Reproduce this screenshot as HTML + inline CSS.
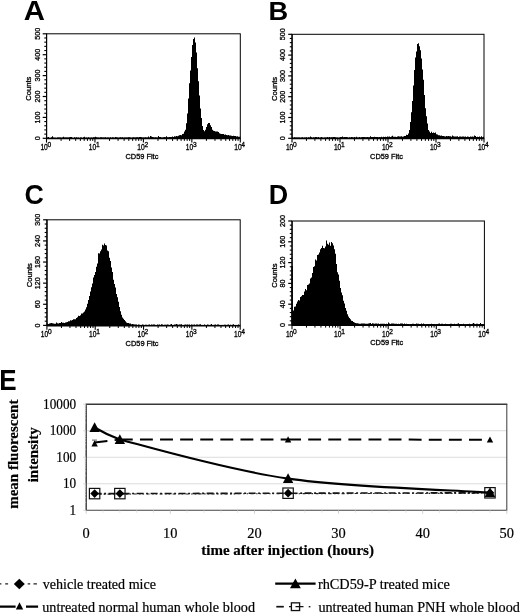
<!DOCTYPE html>
<html><head><meta charset="utf-8"><title>Figure</title>
<style>html,body{margin:0;padding:0;background:#fff}svg{display:block;filter:blur(0.4px)}</style>
</head><body>
<svg width="520" height="612" viewBox="0 0 520 612">
<rect width="520" height="612" fill="#fff"/>
<text transform="translate(23.8,19.9) scale(1.15,1.11)" font-family="Liberation Sans, sans-serif" font-size="25.5" font-weight="bold" fill="#000">A</text>
<path d="M46.5,138.3 V137.8 H47.0 V137.6 H48.0 V137.1 H49.0 V137.9 H50.0 V137.9 H51.0 V137.3 H52.0 V136.2 H53.0 V137.5 H54.0 V137.8 H55.0 V137.7 H56.0 V137.9 H57.0 V137.6 H58.0 V137.6 H59.0 V137.4 H60.0 V137.6 H61.0 V137.7 H62.0 V137.6 H63.0 V136.8 H64.0 V137.5 H65.0 V137.4 H66.0 V137.6 H67.0 V137.6 H68.0 V137.4 H69.0 V137.3 H70.0 V136.9 H71.0 V136.9 H72.0 V137.7 H73.0 V137.9 H74.0 V137.3 H75.0 V137.7 H76.0 V137.3 H77.0 V137.8 H78.0 V137.5 H79.0 V137.9 H80.0 V137.5 H81.0 V137.5 H82.0 V137.9 H83.0 V137.3 H84.0 V136.8 H85.0 V137.8 H86.0 V137.6 H87.0 V137.8 H88.0 V137.2 H89.0 V137.7 H90.0 V137.8 H91.0 V137.6 H92.0 V137.8 H93.0 V137.3 H94.0 V137.2 H95.0 V136.8 H96.0 V137.3 H97.0 V137.6 H98.0 V137.5 H99.0 V137.7 H100.0 V137.3 H101.0 V137.3 H102.0 V137.6 H103.0 V137.6 H104.0 V137.5 H105.0 V137.2 H106.0 V137.7 H107.0 V137.4 H108.0 V137.5 H109.0 V137.8 H110.0 V137.3 H111.0 V137.7 H112.0 V137.2 H113.0 V137.5 H114.0 V137.7 H115.0 V137.1 H116.0 V137.2 H117.0 V137.5 H118.0 V137.8 H119.0 V137.4 H120.0 V137.2 H121.0 V137.6 H122.0 V137.3 H123.0 V137.7 H124.0 V137.4 H125.0 V137.5 H126.0 V137.4 H127.0 V137.4 H128.0 V137.2 H129.0 V137.2 H130.0 V137.4 H131.0 V137.7 H132.0 V137.5 H133.0 V137.3 H134.0 V137.4 H135.0 V137.4 H136.0 V137.3 H137.0 V137.2 H138.0 V137.5 H139.0 V137.1 H140.0 V137.1 H141.0 V137.2 H142.0 V137.6 H143.0 V137.6 H144.0 V137.5 H145.0 V137.3 H146.0 V137.6 H147.0 V137.4 H148.0 V136.5 H149.0 V137.6 H150.0 V136.1 H151.0 V136.6 H152.0 V137.1 H153.0 V137.3 H154.0 V137.4 H155.0 V137.2 H156.0 V137.5 H157.0 V137.5 H158.0 V135.9 H159.0 V136.9 H160.0 V137.1 H161.0 V137.4 H162.0 V137.4 H163.0 V137.3 H164.0 V136.9 H165.0 V137.3 H166.0 V136.3 H167.0 V137.3 H168.0 V137.3 H169.0 V137.0 H170.0 V136.9 H171.0 V137.0 H172.0 V136.6 H173.0 V136.9 H174.0 V136.2 H175.0 V136.6 H176.0 V136.1 H177.0 V136.2 H178.0 V135.8 H179.0 V135.3 H180.0 V135.0 H181.0 V135.2 H182.0 V134.1 H183.0 V133.8 H184.0 V131.6 H185.0 V129.8 H186.0 V123.3 H187.0 V113.4 H188.0 V98.4 H189.0 V83.3 H190.0 V70.6 H191.0 V57.1 H192.0 V45.0 H193.0 V38.9 H194.0 V37.4 H195.0 V42.6 H196.0 V52.4 H197.0 V68.3 H198.0 V81.3 H199.0 V95.6 H200.0 V108.5 H201.0 V117.9 H202.0 V126.0 H203.0 V130.1 H204.0 V131.3 H205.0 V129.8 H206.0 V127.0 H207.0 V124.3 H208.0 V123.0 H209.0 V123.1 H210.0 V125.2 H211.0 V127.0 H212.0 V129.7 H213.0 V130.7 H214.0 V130.9 H215.0 V131.6 H216.0 V131.4 H217.0 V131.4 H218.0 V132.1 H219.0 V133.2 H220.0 V133.7 H221.0 V134.1 H222.0 V133.9 H223.0 V134.0 H224.0 V134.7 H225.0 V134.4 H226.0 V135.0 H227.0 V135.3 H228.0 V135.0 H229.0 V135.5 H230.0 V135.4 H231.0 V135.8 H232.0 V135.9 H233.0 V135.8 H234.0 V136.1 H235.0 V135.9 H236.0 V136.5 H237.0 V136.2 H238.0 V136.7 H239.0 V136.8 H240.0 V136.3 H240.3 V138.3Z" fill="#000"/>
<rect x="46.5" y="33.8" width="193.8" height="104.50000000000001" fill="none" stroke="#000" stroke-width="1"/>
<line x1="46.5" y1="138.60000000000002" x2="240.3" y2="138.60000000000002" stroke="#000" stroke-width="1.5"/>
<line x1="46.6" y1="33.8" x2="46.6" y2="138.3" stroke="#000" stroke-width="1.2"/>
<line x1="42.7" y1="138.30" x2="46.5" y2="138.30" stroke="#000" stroke-width="1.2"/>
<text transform="translate(39.6,138.30) rotate(-90)" text-anchor="middle" font-family="Liberation Sans, sans-serif" font-size="7.2" fill="#000" stroke="#000" stroke-width="0.3">0</text>
<line x1="44.3" y1="134.12" x2="46.5" y2="134.12" stroke="#000" stroke-width="1.1"/>
<line x1="44.3" y1="129.94" x2="46.5" y2="129.94" stroke="#000" stroke-width="1.1"/>
<line x1="44.3" y1="125.76" x2="46.5" y2="125.76" stroke="#000" stroke-width="1.1"/>
<line x1="44.3" y1="121.58" x2="46.5" y2="121.58" stroke="#000" stroke-width="1.1"/>
<line x1="42.7" y1="117.40" x2="46.5" y2="117.40" stroke="#000" stroke-width="1.2"/>
<text transform="translate(39.6,117.40) rotate(-90)" text-anchor="middle" font-family="Liberation Sans, sans-serif" font-size="7.2" fill="#000" stroke="#000" stroke-width="0.3">100</text>
<line x1="44.3" y1="113.22" x2="46.5" y2="113.22" stroke="#000" stroke-width="1.1"/>
<line x1="44.3" y1="109.04" x2="46.5" y2="109.04" stroke="#000" stroke-width="1.1"/>
<line x1="44.3" y1="104.86" x2="46.5" y2="104.86" stroke="#000" stroke-width="1.1"/>
<line x1="44.3" y1="100.68" x2="46.5" y2="100.68" stroke="#000" stroke-width="1.1"/>
<line x1="42.7" y1="96.50" x2="46.5" y2="96.50" stroke="#000" stroke-width="1.2"/>
<text transform="translate(39.6,96.50) rotate(-90)" text-anchor="middle" font-family="Liberation Sans, sans-serif" font-size="7.2" fill="#000" stroke="#000" stroke-width="0.3">200</text>
<line x1="44.3" y1="92.32" x2="46.5" y2="92.32" stroke="#000" stroke-width="1.1"/>
<line x1="44.3" y1="88.14" x2="46.5" y2="88.14" stroke="#000" stroke-width="1.1"/>
<line x1="44.3" y1="83.96" x2="46.5" y2="83.96" stroke="#000" stroke-width="1.1"/>
<line x1="44.3" y1="79.78" x2="46.5" y2="79.78" stroke="#000" stroke-width="1.1"/>
<line x1="42.7" y1="75.60" x2="46.5" y2="75.60" stroke="#000" stroke-width="1.2"/>
<text transform="translate(39.6,75.60) rotate(-90)" text-anchor="middle" font-family="Liberation Sans, sans-serif" font-size="7.2" fill="#000" stroke="#000" stroke-width="0.3">300</text>
<line x1="44.3" y1="71.42" x2="46.5" y2="71.42" stroke="#000" stroke-width="1.1"/>
<line x1="44.3" y1="67.24" x2="46.5" y2="67.24" stroke="#000" stroke-width="1.1"/>
<line x1="44.3" y1="63.06" x2="46.5" y2="63.06" stroke="#000" stroke-width="1.1"/>
<line x1="44.3" y1="58.88" x2="46.5" y2="58.88" stroke="#000" stroke-width="1.1"/>
<line x1="42.7" y1="54.70" x2="46.5" y2="54.70" stroke="#000" stroke-width="1.2"/>
<text transform="translate(39.6,54.70) rotate(-90)" text-anchor="middle" font-family="Liberation Sans, sans-serif" font-size="7.2" fill="#000" stroke="#000" stroke-width="0.3">400</text>
<line x1="44.3" y1="50.52" x2="46.5" y2="50.52" stroke="#000" stroke-width="1.1"/>
<line x1="44.3" y1="46.34" x2="46.5" y2="46.34" stroke="#000" stroke-width="1.1"/>
<line x1="44.3" y1="42.16" x2="46.5" y2="42.16" stroke="#000" stroke-width="1.1"/>
<line x1="44.3" y1="37.98" x2="46.5" y2="37.98" stroke="#000" stroke-width="1.1"/>
<line x1="42.7" y1="33.80" x2="46.5" y2="33.80" stroke="#000" stroke-width="1.2"/>
<text transform="translate(39.6,33.80) rotate(-90)" text-anchor="middle" font-family="Liberation Sans, sans-serif" font-size="7.2" fill="#000" stroke="#000" stroke-width="0.3">500</text>
<text transform="translate(31.2,88.65) rotate(-90)" text-anchor="middle" font-family="Liberation Sans, sans-serif" font-size="7.6" fill="#000" stroke="#000" stroke-width="0.3">Counts</text>
<line x1="46.50" y1="138.3" x2="46.50" y2="142.60000000000002" stroke="#000" stroke-width="1.1"/>
<text x="47.80" y="150.3" text-anchor="end" textLength="7.4" lengthAdjust="spacingAndGlyphs" font-family="Liberation Sans, sans-serif" font-size="8.3" fill="#000" stroke="#000" stroke-width="0.3">10</text>
<text x="49.40" y="146.8" text-anchor="middle" font-family="Liberation Sans, sans-serif" font-size="6.6" fill="#000" stroke="#000" stroke-width="0.3">0</text>
<line x1="61.08" y1="138.3" x2="61.08" y2="140.9" stroke="#000" stroke-width="1"/>
<line x1="69.62" y1="138.3" x2="69.62" y2="140.9" stroke="#000" stroke-width="1"/>
<line x1="75.67" y1="138.3" x2="75.67" y2="140.9" stroke="#000" stroke-width="1"/>
<line x1="80.37" y1="138.3" x2="80.37" y2="140.9" stroke="#000" stroke-width="1"/>
<line x1="84.20" y1="138.3" x2="84.20" y2="140.9" stroke="#000" stroke-width="1"/>
<line x1="87.45" y1="138.3" x2="87.45" y2="140.9" stroke="#000" stroke-width="1"/>
<line x1="90.25" y1="138.3" x2="90.25" y2="140.9" stroke="#000" stroke-width="1"/>
<line x1="92.73" y1="138.3" x2="92.73" y2="140.9" stroke="#000" stroke-width="1"/>
<line x1="94.95" y1="138.3" x2="94.95" y2="142.60000000000002" stroke="#000" stroke-width="1.1"/>
<text x="96.25" y="150.3" text-anchor="end" textLength="7.4" lengthAdjust="spacingAndGlyphs" font-family="Liberation Sans, sans-serif" font-size="8.3" fill="#000" stroke="#000" stroke-width="0.3">10</text>
<text x="97.85" y="146.8" text-anchor="middle" font-family="Liberation Sans, sans-serif" font-size="6.6" fill="#000" stroke="#000" stroke-width="0.3">1</text>
<line x1="109.53" y1="138.3" x2="109.53" y2="140.9" stroke="#000" stroke-width="1"/>
<line x1="118.07" y1="138.3" x2="118.07" y2="140.9" stroke="#000" stroke-width="1"/>
<line x1="124.12" y1="138.3" x2="124.12" y2="140.9" stroke="#000" stroke-width="1"/>
<line x1="128.82" y1="138.3" x2="128.82" y2="140.9" stroke="#000" stroke-width="1"/>
<line x1="132.65" y1="138.3" x2="132.65" y2="140.9" stroke="#000" stroke-width="1"/>
<line x1="135.90" y1="138.3" x2="135.90" y2="140.9" stroke="#000" stroke-width="1"/>
<line x1="138.70" y1="138.3" x2="138.70" y2="140.9" stroke="#000" stroke-width="1"/>
<line x1="141.18" y1="138.3" x2="141.18" y2="140.9" stroke="#000" stroke-width="1"/>
<line x1="143.40" y1="138.3" x2="143.40" y2="142.60000000000002" stroke="#000" stroke-width="1.1"/>
<text x="144.70" y="150.3" text-anchor="end" textLength="7.4" lengthAdjust="spacingAndGlyphs" font-family="Liberation Sans, sans-serif" font-size="8.3" fill="#000" stroke="#000" stroke-width="0.3">10</text>
<text x="146.30" y="146.8" text-anchor="middle" font-family="Liberation Sans, sans-serif" font-size="6.6" fill="#000" stroke="#000" stroke-width="0.3">2</text>
<line x1="157.98" y1="138.3" x2="157.98" y2="140.9" stroke="#000" stroke-width="1"/>
<line x1="166.52" y1="138.3" x2="166.52" y2="140.9" stroke="#000" stroke-width="1"/>
<line x1="172.57" y1="138.3" x2="172.57" y2="140.9" stroke="#000" stroke-width="1"/>
<line x1="177.27" y1="138.3" x2="177.27" y2="140.9" stroke="#000" stroke-width="1"/>
<line x1="181.10" y1="138.3" x2="181.10" y2="140.9" stroke="#000" stroke-width="1"/>
<line x1="184.35" y1="138.3" x2="184.35" y2="140.9" stroke="#000" stroke-width="1"/>
<line x1="187.15" y1="138.3" x2="187.15" y2="140.9" stroke="#000" stroke-width="1"/>
<line x1="189.63" y1="138.3" x2="189.63" y2="140.9" stroke="#000" stroke-width="1"/>
<line x1="191.85" y1="138.3" x2="191.85" y2="142.60000000000002" stroke="#000" stroke-width="1.1"/>
<text x="193.15" y="150.3" text-anchor="end" textLength="7.4" lengthAdjust="spacingAndGlyphs" font-family="Liberation Sans, sans-serif" font-size="8.3" fill="#000" stroke="#000" stroke-width="0.3">10</text>
<text x="194.75" y="146.8" text-anchor="middle" font-family="Liberation Sans, sans-serif" font-size="6.6" fill="#000" stroke="#000" stroke-width="0.3">3</text>
<line x1="206.43" y1="138.3" x2="206.43" y2="140.9" stroke="#000" stroke-width="1"/>
<line x1="214.97" y1="138.3" x2="214.97" y2="140.9" stroke="#000" stroke-width="1"/>
<line x1="221.02" y1="138.3" x2="221.02" y2="140.9" stroke="#000" stroke-width="1"/>
<line x1="225.72" y1="138.3" x2="225.72" y2="140.9" stroke="#000" stroke-width="1"/>
<line x1="229.55" y1="138.3" x2="229.55" y2="140.9" stroke="#000" stroke-width="1"/>
<line x1="232.80" y1="138.3" x2="232.80" y2="140.9" stroke="#000" stroke-width="1"/>
<line x1="235.60" y1="138.3" x2="235.60" y2="140.9" stroke="#000" stroke-width="1"/>
<line x1="238.08" y1="138.3" x2="238.08" y2="140.9" stroke="#000" stroke-width="1"/>
<line x1="240.30" y1="138.3" x2="240.30" y2="142.60000000000002" stroke="#000" stroke-width="1.1"/>
<text x="241.60" y="150.3" text-anchor="end" textLength="7.4" lengthAdjust="spacingAndGlyphs" font-family="Liberation Sans, sans-serif" font-size="8.3" fill="#000" stroke="#000" stroke-width="0.3">10</text>
<text x="243.20" y="146.8" text-anchor="middle" font-family="Liberation Sans, sans-serif" font-size="6.6" fill="#000" stroke="#000" stroke-width="0.3">4</text>
<text x="141.90" y="158.70000000000002" text-anchor="middle" font-family="Liberation Sans, sans-serif" font-size="7.4" fill="#000" stroke="#000" stroke-width="0.3">CD59 Fitc</text>
<text transform="translate(268.4,20.0) scale(1.07,1.04)" font-family="Liberation Sans, sans-serif" font-size="25.5" font-weight="bold" fill="#000">B</text>
<path d="M292.0,138.3 V137.2 H293.0 V137.7 H294.0 V137.3 H295.0 V137.4 H296.0 V137.6 H297.0 V137.6 H298.0 V137.6 H299.0 V137.5 H300.0 V137.7 H301.0 V137.5 H302.0 V137.3 H303.0 V137.8 H304.0 V137.5 H305.0 V137.5 H306.0 V137.2 H307.0 V137.7 H308.0 V137.3 H309.0 V137.4 H310.0 V136.5 H311.0 V137.2 H312.0 V137.7 H313.0 V137.2 H314.0 V137.4 H315.0 V137.0 H316.0 V137.1 H317.0 V137.5 H318.0 V137.1 H319.0 V137.8 H320.0 V137.5 H321.0 V137.1 H322.0 V137.5 H323.0 V137.7 H324.0 V137.4 H325.0 V137.6 H326.0 V137.6 H327.0 V137.1 H328.0 V137.6 H329.0 V137.1 H330.0 V137.6 H331.0 V137.2 H332.0 V137.2 H333.0 V137.1 H334.0 V137.1 H335.0 V137.3 H336.0 V137.5 H337.0 V137.5 H338.0 V137.7 H339.0 V137.5 H340.0 V136.9 H341.0 V137.1 H342.0 V136.6 H343.0 V137.2 H344.0 V137.1 H345.0 V137.1 H346.0 V137.0 H347.0 V137.2 H348.0 V137.7 H349.0 V137.2 H350.0 V137.5 H351.0 V137.0 H352.0 V137.3 H353.0 V137.5 H354.0 V137.1 H355.0 V137.4 H356.0 V136.8 H357.0 V137.4 H358.0 V137.4 H359.0 V136.9 H360.0 V137.5 H361.0 V137.3 H362.0 V137.1 H363.0 V137.0 H364.0 V136.9 H365.0 V137.3 H366.0 V137.3 H367.0 V136.9 H368.0 V137.2 H369.0 V137.3 H370.0 V136.2 H371.0 V136.9 H372.0 V137.0 H373.0 V137.1 H374.0 V136.8 H375.0 V136.9 H376.0 V137.0 H377.0 V137.1 H378.0 V137.2 H379.0 V136.9 H380.0 V137.3 H381.0 V136.8 H382.0 V137.3 H383.0 V136.7 H384.0 V137.1 H385.0 V136.7 H386.0 V137.1 H387.0 V136.6 H388.0 V136.7 H389.0 V136.6 H390.0 V136.9 H391.0 V136.4 H392.0 V135.8 H393.0 V136.8 H394.0 V136.7 H395.0 V136.7 H396.0 V136.9 H397.0 V136.4 H398.0 V136.3 H399.0 V136.6 H400.0 V136.4 H401.0 V136.3 H402.0 V136.7 H403.0 V136.5 H404.0 V136.1 H405.0 V135.9 H406.0 V134.8 H407.0 V135.0 H408.0 V133.6 H409.0 V129.9 H410.0 V122.0 H411.0 V112.2 H412.0 V100.9 H413.0 V85.4 H414.0 V69.9 H415.0 V57.4 H416.0 V51.4 H417.0 V44.1 H418.0 V43.2 H419.0 V46.3 H420.0 V50.2 H421.0 V58.5 H422.0 V69.6 H423.0 V79.8 H424.0 V94.9 H425.0 V108.2 H426.0 V116.3 H427.0 V123.4 H428.0 V130.1 H429.0 V131.5 H430.0 V133.0 H431.0 V131.7 H432.0 V133.1 H433.0 V132.4 H434.0 V133.1 H435.0 V132.6 H436.0 V134.2 H437.0 V134.6 H438.0 V135.2 H439.0 V135.2 H440.0 V135.7 H441.0 V135.6 H442.0 V135.9 H443.0 V136.1 H444.0 V136.2 H445.0 V136.4 H446.0 V136.1 H447.0 V136.3 H448.0 V136.1 H449.0 V136.2 H450.0 V136.2 H451.0 V136.7 H452.0 V135.6 H453.0 V136.3 H454.0 V136.6 H455.0 V136.4 H456.0 V136.6 H457.0 V136.2 H458.0 V136.9 H459.0 V136.6 H460.0 V136.5 H461.0 V136.7 H462.0 V136.4 H463.0 V136.6 H464.0 V136.7 H465.0 V136.4 H466.0 V137.0 H467.0 V136.5 H468.0 V136.8 H469.0 V136.9 H470.0 V136.6 H471.0 V136.8 H472.0 V136.5 H473.0 V136.7 H474.0 V135.6 H475.0 V136.0 H476.0 V137.0 H477.0 V136.7 H478.0 V137.1 H479.0 V136.6 H480.0 V137.2 H481.0 V136.3 H482.0 V137.2 H483.0 V136.8 H484.0 V138.3Z" fill="#000"/>
<rect x="292.0" y="34.3" width="192.0" height="104.00000000000001" fill="none" stroke="#000" stroke-width="1"/>
<line x1="292.0" y1="138.60000000000002" x2="484.0" y2="138.60000000000002" stroke="#000" stroke-width="1.5"/>
<line x1="292.1" y1="34.3" x2="292.1" y2="138.3" stroke="#000" stroke-width="1.2"/>
<line x1="288.2" y1="138.30" x2="292.0" y2="138.30" stroke="#000" stroke-width="1.2"/>
<text transform="translate(285.1,138.30) rotate(-90)" text-anchor="middle" font-family="Liberation Sans, sans-serif" font-size="7.2" fill="#000" stroke="#000" stroke-width="0.3">0</text>
<line x1="289.8" y1="134.14" x2="292.0" y2="134.14" stroke="#000" stroke-width="1.1"/>
<line x1="289.8" y1="129.98" x2="292.0" y2="129.98" stroke="#000" stroke-width="1.1"/>
<line x1="289.8" y1="125.82" x2="292.0" y2="125.82" stroke="#000" stroke-width="1.1"/>
<line x1="289.8" y1="121.66" x2="292.0" y2="121.66" stroke="#000" stroke-width="1.1"/>
<line x1="288.2" y1="117.50" x2="292.0" y2="117.50" stroke="#000" stroke-width="1.2"/>
<text transform="translate(285.1,117.50) rotate(-90)" text-anchor="middle" font-family="Liberation Sans, sans-serif" font-size="7.2" fill="#000" stroke="#000" stroke-width="0.3">100</text>
<line x1="289.8" y1="113.34" x2="292.0" y2="113.34" stroke="#000" stroke-width="1.1"/>
<line x1="289.8" y1="109.18" x2="292.0" y2="109.18" stroke="#000" stroke-width="1.1"/>
<line x1="289.8" y1="105.02" x2="292.0" y2="105.02" stroke="#000" stroke-width="1.1"/>
<line x1="289.8" y1="100.86" x2="292.0" y2="100.86" stroke="#000" stroke-width="1.1"/>
<line x1="288.2" y1="96.70" x2="292.0" y2="96.70" stroke="#000" stroke-width="1.2"/>
<text transform="translate(285.1,96.70) rotate(-90)" text-anchor="middle" font-family="Liberation Sans, sans-serif" font-size="7.2" fill="#000" stroke="#000" stroke-width="0.3">200</text>
<line x1="289.8" y1="92.54" x2="292.0" y2="92.54" stroke="#000" stroke-width="1.1"/>
<line x1="289.8" y1="88.38" x2="292.0" y2="88.38" stroke="#000" stroke-width="1.1"/>
<line x1="289.8" y1="84.22" x2="292.0" y2="84.22" stroke="#000" stroke-width="1.1"/>
<line x1="289.8" y1="80.06" x2="292.0" y2="80.06" stroke="#000" stroke-width="1.1"/>
<line x1="288.2" y1="75.90" x2="292.0" y2="75.90" stroke="#000" stroke-width="1.2"/>
<text transform="translate(285.1,75.90) rotate(-90)" text-anchor="middle" font-family="Liberation Sans, sans-serif" font-size="7.2" fill="#000" stroke="#000" stroke-width="0.3">300</text>
<line x1="289.8" y1="71.74" x2="292.0" y2="71.74" stroke="#000" stroke-width="1.1"/>
<line x1="289.8" y1="67.58" x2="292.0" y2="67.58" stroke="#000" stroke-width="1.1"/>
<line x1="289.8" y1="63.42" x2="292.0" y2="63.42" stroke="#000" stroke-width="1.1"/>
<line x1="289.8" y1="59.26" x2="292.0" y2="59.26" stroke="#000" stroke-width="1.1"/>
<line x1="288.2" y1="55.10" x2="292.0" y2="55.10" stroke="#000" stroke-width="1.2"/>
<text transform="translate(285.1,55.10) rotate(-90)" text-anchor="middle" font-family="Liberation Sans, sans-serif" font-size="7.2" fill="#000" stroke="#000" stroke-width="0.3">400</text>
<line x1="289.8" y1="50.94" x2="292.0" y2="50.94" stroke="#000" stroke-width="1.1"/>
<line x1="289.8" y1="46.78" x2="292.0" y2="46.78" stroke="#000" stroke-width="1.1"/>
<line x1="289.8" y1="42.62" x2="292.0" y2="42.62" stroke="#000" stroke-width="1.1"/>
<line x1="289.8" y1="38.46" x2="292.0" y2="38.46" stroke="#000" stroke-width="1.1"/>
<line x1="288.2" y1="34.30" x2="292.0" y2="34.30" stroke="#000" stroke-width="1.2"/>
<text transform="translate(285.1,34.30) rotate(-90)" text-anchor="middle" font-family="Liberation Sans, sans-serif" font-size="7.2" fill="#000" stroke="#000" stroke-width="0.3">500</text>
<text transform="translate(276.7,88.90) rotate(-90)" text-anchor="middle" font-family="Liberation Sans, sans-serif" font-size="7.6" fill="#000" stroke="#000" stroke-width="0.3">Counts</text>
<line x1="292.00" y1="138.3" x2="292.00" y2="142.60000000000002" stroke="#000" stroke-width="1.1"/>
<text x="293.30" y="150.3" text-anchor="end" textLength="7.4" lengthAdjust="spacingAndGlyphs" font-family="Liberation Sans, sans-serif" font-size="8.3" fill="#000" stroke="#000" stroke-width="0.3">10</text>
<text x="294.90" y="146.8" text-anchor="middle" font-family="Liberation Sans, sans-serif" font-size="6.6" fill="#000" stroke="#000" stroke-width="0.3">0</text>
<line x1="306.45" y1="138.3" x2="306.45" y2="140.9" stroke="#000" stroke-width="1"/>
<line x1="314.90" y1="138.3" x2="314.90" y2="140.9" stroke="#000" stroke-width="1"/>
<line x1="320.90" y1="138.3" x2="320.90" y2="140.9" stroke="#000" stroke-width="1"/>
<line x1="325.55" y1="138.3" x2="325.55" y2="140.9" stroke="#000" stroke-width="1"/>
<line x1="329.35" y1="138.3" x2="329.35" y2="140.9" stroke="#000" stroke-width="1"/>
<line x1="332.56" y1="138.3" x2="332.56" y2="140.9" stroke="#000" stroke-width="1"/>
<line x1="335.35" y1="138.3" x2="335.35" y2="140.9" stroke="#000" stroke-width="1"/>
<line x1="337.80" y1="138.3" x2="337.80" y2="140.9" stroke="#000" stroke-width="1"/>
<line x1="340.00" y1="138.3" x2="340.00" y2="142.60000000000002" stroke="#000" stroke-width="1.1"/>
<text x="341.30" y="150.3" text-anchor="end" textLength="7.4" lengthAdjust="spacingAndGlyphs" font-family="Liberation Sans, sans-serif" font-size="8.3" fill="#000" stroke="#000" stroke-width="0.3">10</text>
<text x="342.90" y="146.8" text-anchor="middle" font-family="Liberation Sans, sans-serif" font-size="6.6" fill="#000" stroke="#000" stroke-width="0.3">1</text>
<line x1="354.45" y1="138.3" x2="354.45" y2="140.9" stroke="#000" stroke-width="1"/>
<line x1="362.90" y1="138.3" x2="362.90" y2="140.9" stroke="#000" stroke-width="1"/>
<line x1="368.90" y1="138.3" x2="368.90" y2="140.9" stroke="#000" stroke-width="1"/>
<line x1="373.55" y1="138.3" x2="373.55" y2="140.9" stroke="#000" stroke-width="1"/>
<line x1="377.35" y1="138.3" x2="377.35" y2="140.9" stroke="#000" stroke-width="1"/>
<line x1="380.56" y1="138.3" x2="380.56" y2="140.9" stroke="#000" stroke-width="1"/>
<line x1="383.35" y1="138.3" x2="383.35" y2="140.9" stroke="#000" stroke-width="1"/>
<line x1="385.80" y1="138.3" x2="385.80" y2="140.9" stroke="#000" stroke-width="1"/>
<line x1="388.00" y1="138.3" x2="388.00" y2="142.60000000000002" stroke="#000" stroke-width="1.1"/>
<text x="389.30" y="150.3" text-anchor="end" textLength="7.4" lengthAdjust="spacingAndGlyphs" font-family="Liberation Sans, sans-serif" font-size="8.3" fill="#000" stroke="#000" stroke-width="0.3">10</text>
<text x="390.90" y="146.8" text-anchor="middle" font-family="Liberation Sans, sans-serif" font-size="6.6" fill="#000" stroke="#000" stroke-width="0.3">2</text>
<line x1="402.45" y1="138.3" x2="402.45" y2="140.9" stroke="#000" stroke-width="1"/>
<line x1="410.90" y1="138.3" x2="410.90" y2="140.9" stroke="#000" stroke-width="1"/>
<line x1="416.90" y1="138.3" x2="416.90" y2="140.9" stroke="#000" stroke-width="1"/>
<line x1="421.55" y1="138.3" x2="421.55" y2="140.9" stroke="#000" stroke-width="1"/>
<line x1="425.35" y1="138.3" x2="425.35" y2="140.9" stroke="#000" stroke-width="1"/>
<line x1="428.56" y1="138.3" x2="428.56" y2="140.9" stroke="#000" stroke-width="1"/>
<line x1="431.35" y1="138.3" x2="431.35" y2="140.9" stroke="#000" stroke-width="1"/>
<line x1="433.80" y1="138.3" x2="433.80" y2="140.9" stroke="#000" stroke-width="1"/>
<line x1="436.00" y1="138.3" x2="436.00" y2="142.60000000000002" stroke="#000" stroke-width="1.1"/>
<text x="437.30" y="150.3" text-anchor="end" textLength="7.4" lengthAdjust="spacingAndGlyphs" font-family="Liberation Sans, sans-serif" font-size="8.3" fill="#000" stroke="#000" stroke-width="0.3">10</text>
<text x="438.90" y="146.8" text-anchor="middle" font-family="Liberation Sans, sans-serif" font-size="6.6" fill="#000" stroke="#000" stroke-width="0.3">3</text>
<line x1="450.45" y1="138.3" x2="450.45" y2="140.9" stroke="#000" stroke-width="1"/>
<line x1="458.90" y1="138.3" x2="458.90" y2="140.9" stroke="#000" stroke-width="1"/>
<line x1="464.90" y1="138.3" x2="464.90" y2="140.9" stroke="#000" stroke-width="1"/>
<line x1="469.55" y1="138.3" x2="469.55" y2="140.9" stroke="#000" stroke-width="1"/>
<line x1="473.35" y1="138.3" x2="473.35" y2="140.9" stroke="#000" stroke-width="1"/>
<line x1="476.56" y1="138.3" x2="476.56" y2="140.9" stroke="#000" stroke-width="1"/>
<line x1="479.35" y1="138.3" x2="479.35" y2="140.9" stroke="#000" stroke-width="1"/>
<line x1="481.80" y1="138.3" x2="481.80" y2="140.9" stroke="#000" stroke-width="1"/>
<line x1="484.00" y1="138.3" x2="484.00" y2="142.60000000000002" stroke="#000" stroke-width="1.1"/>
<text x="485.30" y="150.3" text-anchor="end" textLength="7.4" lengthAdjust="spacingAndGlyphs" font-family="Liberation Sans, sans-serif" font-size="8.3" fill="#000" stroke="#000" stroke-width="0.3">10</text>
<text x="486.90" y="146.8" text-anchor="middle" font-family="Liberation Sans, sans-serif" font-size="6.6" fill="#000" stroke="#000" stroke-width="0.3">4</text>
<text x="386.50" y="158.70000000000002" text-anchor="middle" font-family="Liberation Sans, sans-serif" font-size="7.4" fill="#000" stroke="#000" stroke-width="0.3">CD59 Fitc</text>
<text transform="translate(24.5,203.9) scale(1.05,1.1)" font-family="Liberation Sans, sans-serif" font-size="25.5" font-weight="bold" fill="#000">C</text>
<path d="M46.9,325.4 V322.9 H47.0 V323.5 H48.0 V323.9 H49.0 V323.4 H50.0 V323.2 H51.0 V323.0 H52.0 V323.3 H53.0 V323.5 H54.0 V323.8 H55.0 V323.8 H56.0 V322.6 H57.0 V323.2 H58.0 V323.5 H59.0 V322.9 H60.0 V322.9 H61.0 V321.9 H62.0 V322.7 H63.0 V322.8 H64.0 V323.1 H65.0 V322.5 H66.0 V322.2 H67.0 V322.0 H68.0 V321.2 H69.0 V321.2 H70.0 V320.3 H71.0 V320.6 H72.0 V320.0 H73.0 V319.3 H74.0 V319.3 H75.0 V319.2 H76.0 V318.1 H77.0 V317.3 H78.0 V315.8 H79.0 V315.9 H80.0 V315.3 H81.0 V313.6 H82.0 V313.5 H83.0 V312.5 H84.0 V311.5 H85.0 V309.4 H86.0 V307.3 H87.0 V303.8 H88.0 V300.1 H89.0 V295.9 H90.0 V291.5 H91.0 V287.3 H92.0 V283.4 H93.0 V277.6 H94.0 V275.1 H95.0 V272.1 H96.0 V266.8 H97.0 V263.4 H98.0 V253.2 H99.0 V253.5 H100.0 V251.3 H101.0 V249.4 H102.0 V244.8 H103.0 V245.5 H104.0 V243.4 H105.0 V245.1 H106.0 V245.4 H107.0 V250.5 H108.0 V251.3 H109.0 V257.7 H110.0 V261.1 H111.0 V267.6 H112.0 V272.0 H113.0 V279.7 H114.0 V284.0 H115.0 V287.5 H116.0 V294.0 H117.0 V297.3 H118.0 V301.7 H119.0 V306.9 H120.0 V311.3 H121.0 V314.8 H122.0 V317.4 H123.0 V318.7 H124.0 V320.0 H125.0 V321.3 H126.0 V322.6 H127.0 V322.9 H128.0 V322.9 H129.0 V323.4 H130.0 V323.4 H131.0 V324.2 H132.0 V324.1 H133.0 V324.3 H134.0 V324.6 H135.0 V324.4 H136.0 V324.5 H137.0 V324.9 H138.0 V324.6 H139.0 V324.8 H140.0 V325.0 H141.0 V325.0 H142.0 V324.4 H143.0 V324.7 H144.0 V325.1 H145.0 V324.8 H146.0 V324.7 H147.0 V324.9 H148.0 V324.7 H149.0 V324.5 H150.0 V324.9 H151.0 V324.6 H152.0 V324.8 H153.0 V324.6 H154.0 V324.6 H155.0 V325.1 H156.0 V324.9 H157.0 V324.6 H158.0 V324.7 H159.0 V324.6 H160.0 V325.0 H161.0 V324.3 H162.0 V324.5 H163.0 V324.9 H164.0 V324.7 H165.0 V324.8 H166.0 V324.7 H167.0 V324.5 H168.0 V324.7 H169.0 V325.1 H170.0 V324.5 H171.0 V324.1 H172.0 V325.0 H173.0 V325.0 H174.0 V324.5 H175.0 V324.6 H176.0 V324.1 H177.0 V324.5 H178.0 V324.7 H179.0 V324.5 H180.0 V324.6 H181.0 V324.2 H182.0 V325.0 H183.0 V325.1 H184.0 V324.8 H185.0 V324.6 H186.0 V324.7 H187.0 V324.6 H188.0 V324.8 H189.0 V324.4 H190.0 V324.9 H191.0 V324.6 H192.0 V324.8 H193.0 V324.7 H194.0 V324.6 H195.0 V325.0 H196.0 V324.6 H197.0 V324.6 H198.0 V324.8 H199.0 V324.6 H200.0 V324.3 H201.0 V325.0 H202.0 V325.0 H203.0 V324.9 H204.0 V324.6 H205.0 V325.1 H206.0 V325.0 H207.0 V324.6 H208.0 V324.8 H209.0 V325.1 H210.0 V324.8 H211.0 V323.9 H212.0 V325.1 H213.0 V325.1 H214.0 V324.8 H215.0 V324.6 H216.0 V325.0 H217.0 V324.5 H218.0 V324.5 H219.0 V325.0 H220.0 V325.2 H221.0 V324.9 H222.0 V325.2 H223.0 V325.1 H224.0 V324.8 H225.0 V324.8 H226.0 V325.1 H227.0 V324.8 H228.0 V324.6 H229.0 V325.2 H230.0 V324.8 H231.0 V325.1 H232.0 V324.8 H233.0 V324.3 H234.0 V325.1 H235.0 V325.1 H236.0 V325.2 H237.0 V325.2 H238.0 V324.6 H239.0 V325.2 H240.0 V324.6 H240.2 V325.4Z" fill="#000"/>
<rect x="46.9" y="219.8" width="193.29999999999998" height="105.59999999999997" fill="none" stroke="#000" stroke-width="1"/>
<line x1="46.9" y1="325.7" x2="240.2" y2="325.7" stroke="#000" stroke-width="1.5"/>
<line x1="47.0" y1="219.8" x2="47.0" y2="325.4" stroke="#000" stroke-width="1.2"/>
<line x1="43.1" y1="325.40" x2="46.9" y2="325.40" stroke="#000" stroke-width="1.2"/>
<text transform="translate(40.0,325.40) rotate(-90)" text-anchor="middle" font-family="Liberation Sans, sans-serif" font-size="7.2" fill="#000" stroke="#000" stroke-width="0.3">0</text>
<line x1="44.699999999999996" y1="321.18" x2="46.9" y2="321.18" stroke="#000" stroke-width="1.1"/>
<line x1="44.699999999999996" y1="316.95" x2="46.9" y2="316.95" stroke="#000" stroke-width="1.1"/>
<line x1="44.699999999999996" y1="312.73" x2="46.9" y2="312.73" stroke="#000" stroke-width="1.1"/>
<line x1="44.699999999999996" y1="308.50" x2="46.9" y2="308.50" stroke="#000" stroke-width="1.1"/>
<line x1="43.1" y1="304.28" x2="46.9" y2="304.28" stroke="#000" stroke-width="1.2"/>
<text transform="translate(40.0,304.28) rotate(-90)" text-anchor="middle" font-family="Liberation Sans, sans-serif" font-size="7.2" fill="#000" stroke="#000" stroke-width="0.3">60</text>
<line x1="44.699999999999996" y1="300.06" x2="46.9" y2="300.06" stroke="#000" stroke-width="1.1"/>
<line x1="44.699999999999996" y1="295.83" x2="46.9" y2="295.83" stroke="#000" stroke-width="1.1"/>
<line x1="44.699999999999996" y1="291.61" x2="46.9" y2="291.61" stroke="#000" stroke-width="1.1"/>
<line x1="44.699999999999996" y1="287.38" x2="46.9" y2="287.38" stroke="#000" stroke-width="1.1"/>
<line x1="43.1" y1="283.16" x2="46.9" y2="283.16" stroke="#000" stroke-width="1.2"/>
<text transform="translate(40.0,283.16) rotate(-90)" text-anchor="middle" font-family="Liberation Sans, sans-serif" font-size="7.2" fill="#000" stroke="#000" stroke-width="0.3">120</text>
<line x1="44.699999999999996" y1="278.94" x2="46.9" y2="278.94" stroke="#000" stroke-width="1.1"/>
<line x1="44.699999999999996" y1="274.71" x2="46.9" y2="274.71" stroke="#000" stroke-width="1.1"/>
<line x1="44.699999999999996" y1="270.49" x2="46.9" y2="270.49" stroke="#000" stroke-width="1.1"/>
<line x1="44.699999999999996" y1="266.26" x2="46.9" y2="266.26" stroke="#000" stroke-width="1.1"/>
<line x1="43.1" y1="262.04" x2="46.9" y2="262.04" stroke="#000" stroke-width="1.2"/>
<text transform="translate(40.0,262.04) rotate(-90)" text-anchor="middle" font-family="Liberation Sans, sans-serif" font-size="7.2" fill="#000" stroke="#000" stroke-width="0.3">180</text>
<line x1="44.699999999999996" y1="257.82" x2="46.9" y2="257.82" stroke="#000" stroke-width="1.1"/>
<line x1="44.699999999999996" y1="253.59" x2="46.9" y2="253.59" stroke="#000" stroke-width="1.1"/>
<line x1="44.699999999999996" y1="249.37" x2="46.9" y2="249.37" stroke="#000" stroke-width="1.1"/>
<line x1="44.699999999999996" y1="245.14" x2="46.9" y2="245.14" stroke="#000" stroke-width="1.1"/>
<line x1="43.1" y1="240.92" x2="46.9" y2="240.92" stroke="#000" stroke-width="1.2"/>
<text transform="translate(40.0,240.92) rotate(-90)" text-anchor="middle" font-family="Liberation Sans, sans-serif" font-size="7.2" fill="#000" stroke="#000" stroke-width="0.3">240</text>
<line x1="44.699999999999996" y1="236.70" x2="46.9" y2="236.70" stroke="#000" stroke-width="1.1"/>
<line x1="44.699999999999996" y1="232.47" x2="46.9" y2="232.47" stroke="#000" stroke-width="1.1"/>
<line x1="44.699999999999996" y1="228.25" x2="46.9" y2="228.25" stroke="#000" stroke-width="1.1"/>
<line x1="44.699999999999996" y1="224.02" x2="46.9" y2="224.02" stroke="#000" stroke-width="1.1"/>
<line x1="43.1" y1="219.80" x2="46.9" y2="219.80" stroke="#000" stroke-width="1.2"/>
<text transform="translate(40.0,219.80) rotate(-90)" text-anchor="middle" font-family="Liberation Sans, sans-serif" font-size="7.2" fill="#000" stroke="#000" stroke-width="0.3">300</text>
<text transform="translate(31.599999999999998,275.20) rotate(-90)" text-anchor="middle" font-family="Liberation Sans, sans-serif" font-size="7.6" fill="#000" stroke="#000" stroke-width="0.3">Counts</text>
<line x1="46.90" y1="325.4" x2="46.90" y2="329.7" stroke="#000" stroke-width="1.1"/>
<text x="48.20" y="337.4" text-anchor="end" textLength="7.4" lengthAdjust="spacingAndGlyphs" font-family="Liberation Sans, sans-serif" font-size="8.3" fill="#000" stroke="#000" stroke-width="0.3">10</text>
<text x="49.80" y="333.9" text-anchor="middle" font-family="Liberation Sans, sans-serif" font-size="6.6" fill="#000" stroke="#000" stroke-width="0.3">0</text>
<line x1="61.45" y1="325.4" x2="61.45" y2="328.0" stroke="#000" stroke-width="1"/>
<line x1="69.96" y1="325.4" x2="69.96" y2="328.0" stroke="#000" stroke-width="1"/>
<line x1="75.99" y1="325.4" x2="75.99" y2="328.0" stroke="#000" stroke-width="1"/>
<line x1="80.68" y1="325.4" x2="80.68" y2="328.0" stroke="#000" stroke-width="1"/>
<line x1="84.50" y1="325.4" x2="84.50" y2="328.0" stroke="#000" stroke-width="1"/>
<line x1="87.74" y1="325.4" x2="87.74" y2="328.0" stroke="#000" stroke-width="1"/>
<line x1="90.54" y1="325.4" x2="90.54" y2="328.0" stroke="#000" stroke-width="1"/>
<line x1="93.01" y1="325.4" x2="93.01" y2="328.0" stroke="#000" stroke-width="1"/>
<line x1="95.22" y1="325.4" x2="95.22" y2="329.7" stroke="#000" stroke-width="1.1"/>
<text x="96.52" y="337.4" text-anchor="end" textLength="7.4" lengthAdjust="spacingAndGlyphs" font-family="Liberation Sans, sans-serif" font-size="8.3" fill="#000" stroke="#000" stroke-width="0.3">10</text>
<text x="98.12" y="333.9" text-anchor="middle" font-family="Liberation Sans, sans-serif" font-size="6.6" fill="#000" stroke="#000" stroke-width="0.3">1</text>
<line x1="109.77" y1="325.4" x2="109.77" y2="328.0" stroke="#000" stroke-width="1"/>
<line x1="118.28" y1="325.4" x2="118.28" y2="328.0" stroke="#000" stroke-width="1"/>
<line x1="124.32" y1="325.4" x2="124.32" y2="328.0" stroke="#000" stroke-width="1"/>
<line x1="129.00" y1="325.4" x2="129.00" y2="328.0" stroke="#000" stroke-width="1"/>
<line x1="132.83" y1="325.4" x2="132.83" y2="328.0" stroke="#000" stroke-width="1"/>
<line x1="136.06" y1="325.4" x2="136.06" y2="328.0" stroke="#000" stroke-width="1"/>
<line x1="138.87" y1="325.4" x2="138.87" y2="328.0" stroke="#000" stroke-width="1"/>
<line x1="141.34" y1="325.4" x2="141.34" y2="328.0" stroke="#000" stroke-width="1"/>
<line x1="143.55" y1="325.4" x2="143.55" y2="329.7" stroke="#000" stroke-width="1.1"/>
<text x="144.85" y="337.4" text-anchor="end" textLength="7.4" lengthAdjust="spacingAndGlyphs" font-family="Liberation Sans, sans-serif" font-size="8.3" fill="#000" stroke="#000" stroke-width="0.3">10</text>
<text x="146.45" y="333.9" text-anchor="middle" font-family="Liberation Sans, sans-serif" font-size="6.6" fill="#000" stroke="#000" stroke-width="0.3">2</text>
<line x1="158.10" y1="325.4" x2="158.10" y2="328.0" stroke="#000" stroke-width="1"/>
<line x1="166.61" y1="325.4" x2="166.61" y2="328.0" stroke="#000" stroke-width="1"/>
<line x1="172.64" y1="325.4" x2="172.64" y2="328.0" stroke="#000" stroke-width="1"/>
<line x1="177.33" y1="325.4" x2="177.33" y2="328.0" stroke="#000" stroke-width="1"/>
<line x1="181.15" y1="325.4" x2="181.15" y2="328.0" stroke="#000" stroke-width="1"/>
<line x1="184.39" y1="325.4" x2="184.39" y2="328.0" stroke="#000" stroke-width="1"/>
<line x1="187.19" y1="325.4" x2="187.19" y2="328.0" stroke="#000" stroke-width="1"/>
<line x1="189.66" y1="325.4" x2="189.66" y2="328.0" stroke="#000" stroke-width="1"/>
<line x1="191.88" y1="325.4" x2="191.88" y2="329.7" stroke="#000" stroke-width="1.1"/>
<text x="193.18" y="337.4" text-anchor="end" textLength="7.4" lengthAdjust="spacingAndGlyphs" font-family="Liberation Sans, sans-serif" font-size="8.3" fill="#000" stroke="#000" stroke-width="0.3">10</text>
<text x="194.78" y="333.9" text-anchor="middle" font-family="Liberation Sans, sans-serif" font-size="6.6" fill="#000" stroke="#000" stroke-width="0.3">3</text>
<line x1="206.42" y1="325.4" x2="206.42" y2="328.0" stroke="#000" stroke-width="1"/>
<line x1="214.93" y1="325.4" x2="214.93" y2="328.0" stroke="#000" stroke-width="1"/>
<line x1="220.97" y1="325.4" x2="220.97" y2="328.0" stroke="#000" stroke-width="1"/>
<line x1="225.65" y1="325.4" x2="225.65" y2="328.0" stroke="#000" stroke-width="1"/>
<line x1="229.48" y1="325.4" x2="229.48" y2="328.0" stroke="#000" stroke-width="1"/>
<line x1="232.71" y1="325.4" x2="232.71" y2="328.0" stroke="#000" stroke-width="1"/>
<line x1="235.52" y1="325.4" x2="235.52" y2="328.0" stroke="#000" stroke-width="1"/>
<line x1="237.99" y1="325.4" x2="237.99" y2="328.0" stroke="#000" stroke-width="1"/>
<line x1="240.20" y1="325.4" x2="240.20" y2="329.7" stroke="#000" stroke-width="1.1"/>
<text x="241.50" y="337.4" text-anchor="end" textLength="7.4" lengthAdjust="spacingAndGlyphs" font-family="Liberation Sans, sans-serif" font-size="8.3" fill="#000" stroke="#000" stroke-width="0.3">10</text>
<text x="243.10" y="333.9" text-anchor="middle" font-family="Liberation Sans, sans-serif" font-size="6.6" fill="#000" stroke="#000" stroke-width="0.3">4</text>
<text x="142.05" y="345.79999999999995" text-anchor="middle" font-family="Liberation Sans, sans-serif" font-size="7.4" fill="#000" stroke="#000" stroke-width="0.3">CD59 Fitc</text>
<rect x="291.4" y="266" width="1.4" height="58" fill="#000"/>
<text transform="translate(268.8,203.8) scale(1.054,1.105)" font-family="Liberation Sans, sans-serif" font-size="25.5" font-weight="bold" fill="#000">D</text>
<path d="M292.0,325.0 V311.6 H293.0 V310.4 H294.0 V306.8 H295.0 V306.4 H296.0 V303.8 H297.0 V301.6 H298.0 V299.9 H299.0 V300.5 H300.0 V296.9 H301.0 V296.2 H302.0 V295.0 H303.0 V294.9 H304.0 V291.6 H305.0 V289.1 H306.0 V290.2 H307.0 V285.0 H308.0 V284.4 H309.0 V283.5 H310.0 V278.4 H311.0 V277.6 H312.0 V273.1 H313.0 V267.1 H314.0 V266.2 H315.0 V259.4 H316.0 V260.5 H317.0 V254.9 H318.0 V254.6 H319.0 V252.4 H320.0 V249.2 H321.0 V248.1 H322.0 V245.7 H323.0 V248.0 H324.0 V248.3 H325.0 V246.6 H326.0 V240.6 H327.0 V243.8 H328.0 V244.7 H329.0 V242.4 H330.0 V245.8 H331.0 V242.0 H332.0 V243.2 H333.0 V245.4 H334.0 V249.2 H335.0 V253.8 H336.0 V264.0 H337.0 V272.3 H338.0 V274.5 H339.0 V280.8 H340.0 V288.0 H341.0 V292.4 H342.0 V295.2 H343.0 V300.7 H344.0 V303.5 H345.0 V308.0 H346.0 V310.7 H347.0 V314.3 H348.0 V316.6 H349.0 V318.0 H350.0 V319.2 H351.0 V320.8 H352.0 V321.1 H353.0 V321.9 H354.0 V322.4 H355.0 V323.0 H356.0 V323.3 H357.0 V323.3 H358.0 V323.4 H359.0 V323.7 H360.0 V323.7 H361.0 V323.5 H362.0 V323.5 H363.0 V323.4 H364.0 V323.6 H365.0 V323.8 H366.0 V323.7 H367.0 V323.7 H368.0 V323.6 H369.0 V323.3 H370.0 V322.9 H371.0 V324.0 H372.0 V323.3 H373.0 V323.6 H374.0 V323.8 H375.0 V323.5 H376.0 V323.5 H377.0 V323.8 H378.0 V323.5 H379.0 V324.1 H380.0 V323.7 H381.0 V323.8 H382.0 V323.7 H383.0 V323.8 H384.0 V323.8 H385.0 V323.9 H386.0 V323.8 H387.0 V323.9 H388.0 V322.6 H389.0 V323.5 H390.0 V324.0 H391.0 V323.5 H392.0 V323.5 H393.0 V323.5 H394.0 V323.7 H395.0 V323.7 H396.0 V323.7 H397.0 V323.9 H398.0 V323.8 H399.0 V323.9 H400.0 V323.5 H401.0 V323.6 H402.0 V323.5 H403.0 V324.1 H404.0 V323.6 H405.0 V323.9 H406.0 V323.8 H407.0 V324.1 H408.0 V324.0 H409.0 V324.2 H410.0 V324.0 H411.0 V324.0 H412.0 V323.8 H413.0 V323.8 H414.0 V323.9 H415.0 V323.9 H416.0 V323.5 H417.0 V323.8 H418.0 V323.7 H419.0 V324.0 H420.0 V324.1 H421.0 V323.6 H422.0 V323.9 H423.0 V323.6 H424.0 V324.0 H425.0 V324.2 H426.0 V324.1 H427.0 V324.1 H428.0 V324.0 H429.0 V324.0 H430.0 V324.0 H431.0 V323.7 H432.0 V324.0 H433.0 V324.1 H434.0 V323.9 H435.0 V324.2 H436.0 V324.1 H437.0 V324.1 H438.0 V323.8 H439.0 V323.4 H440.0 V324.2 H441.0 V323.8 H442.0 V323.8 H443.0 V324.2 H444.0 V324.1 H445.0 V323.8 H446.0 V323.9 H447.0 V323.9 H448.0 V324.3 H449.0 V324.1 H450.0 V323.8 H451.0 V323.8 H452.0 V324.1 H453.0 V323.9 H454.0 V323.7 H455.0 V324.2 H456.0 V324.0 H457.0 V323.7 H458.0 V323.3 H459.0 V324.1 H460.0 V323.9 H461.0 V324.1 H462.0 V324.2 H463.0 V323.8 H464.0 V324.2 H465.0 V324.3 H466.0 V324.2 H467.0 V323.9 H468.0 V323.9 H469.0 V323.7 H470.0 V324.3 H471.0 V324.3 H472.0 V323.8 H473.0 V323.0 H474.0 V323.8 H475.0 V324.3 H476.0 V323.7 H477.0 V323.8 H478.0 V324.3 H479.0 V324.0 H480.0 V323.0 H481.0 V324.2 H482.0 V324.0 H483.0 V324.3 H484.0 V324.2 H484.4 V325.0Z" fill="#000"/>
<rect x="292.0" y="221.0" width="192.39999999999998" height="104.0" fill="none" stroke="#000" stroke-width="1"/>
<line x1="292.0" y1="325.3" x2="484.4" y2="325.3" stroke="#000" stroke-width="1.5"/>
<line x1="292.1" y1="221.0" x2="292.1" y2="325.0" stroke="#000" stroke-width="1.2"/>
<line x1="288.2" y1="325.00" x2="292.0" y2="325.00" stroke="#000" stroke-width="1.2"/>
<text transform="translate(285.1,325.00) rotate(-90)" text-anchor="middle" font-family="Liberation Sans, sans-serif" font-size="7.2" fill="#000" stroke="#000" stroke-width="0.3">0</text>
<line x1="289.8" y1="320.84" x2="292.0" y2="320.84" stroke="#000" stroke-width="1.1"/>
<line x1="289.8" y1="316.68" x2="292.0" y2="316.68" stroke="#000" stroke-width="1.1"/>
<line x1="289.8" y1="312.52" x2="292.0" y2="312.52" stroke="#000" stroke-width="1.1"/>
<line x1="289.8" y1="308.36" x2="292.0" y2="308.36" stroke="#000" stroke-width="1.1"/>
<line x1="288.2" y1="304.20" x2="292.0" y2="304.20" stroke="#000" stroke-width="1.2"/>
<text transform="translate(285.1,304.20) rotate(-90)" text-anchor="middle" font-family="Liberation Sans, sans-serif" font-size="7.2" fill="#000" stroke="#000" stroke-width="0.3">40</text>
<line x1="289.8" y1="300.04" x2="292.0" y2="300.04" stroke="#000" stroke-width="1.1"/>
<line x1="289.8" y1="295.88" x2="292.0" y2="295.88" stroke="#000" stroke-width="1.1"/>
<line x1="289.8" y1="291.72" x2="292.0" y2="291.72" stroke="#000" stroke-width="1.1"/>
<line x1="289.8" y1="287.56" x2="292.0" y2="287.56" stroke="#000" stroke-width="1.1"/>
<line x1="288.2" y1="283.40" x2="292.0" y2="283.40" stroke="#000" stroke-width="1.2"/>
<text transform="translate(285.1,283.40) rotate(-90)" text-anchor="middle" font-family="Liberation Sans, sans-serif" font-size="7.2" fill="#000" stroke="#000" stroke-width="0.3">80</text>
<line x1="289.8" y1="279.24" x2="292.0" y2="279.24" stroke="#000" stroke-width="1.1"/>
<line x1="289.8" y1="275.08" x2="292.0" y2="275.08" stroke="#000" stroke-width="1.1"/>
<line x1="289.8" y1="270.92" x2="292.0" y2="270.92" stroke="#000" stroke-width="1.1"/>
<line x1="289.8" y1="266.76" x2="292.0" y2="266.76" stroke="#000" stroke-width="1.1"/>
<line x1="288.2" y1="262.60" x2="292.0" y2="262.60" stroke="#000" stroke-width="1.2"/>
<text transform="translate(285.1,262.60) rotate(-90)" text-anchor="middle" font-family="Liberation Sans, sans-serif" font-size="7.2" fill="#000" stroke="#000" stroke-width="0.3">120</text>
<line x1="289.8" y1="258.44" x2="292.0" y2="258.44" stroke="#000" stroke-width="1.1"/>
<line x1="289.8" y1="254.28" x2="292.0" y2="254.28" stroke="#000" stroke-width="1.1"/>
<line x1="289.8" y1="250.12" x2="292.0" y2="250.12" stroke="#000" stroke-width="1.1"/>
<line x1="289.8" y1="245.96" x2="292.0" y2="245.96" stroke="#000" stroke-width="1.1"/>
<line x1="288.2" y1="241.80" x2="292.0" y2="241.80" stroke="#000" stroke-width="1.2"/>
<text transform="translate(285.1,241.80) rotate(-90)" text-anchor="middle" font-family="Liberation Sans, sans-serif" font-size="7.2" fill="#000" stroke="#000" stroke-width="0.3">160</text>
<line x1="289.8" y1="237.64" x2="292.0" y2="237.64" stroke="#000" stroke-width="1.1"/>
<line x1="289.8" y1="233.48" x2="292.0" y2="233.48" stroke="#000" stroke-width="1.1"/>
<line x1="289.8" y1="229.32" x2="292.0" y2="229.32" stroke="#000" stroke-width="1.1"/>
<line x1="289.8" y1="225.16" x2="292.0" y2="225.16" stroke="#000" stroke-width="1.1"/>
<line x1="288.2" y1="221.00" x2="292.0" y2="221.00" stroke="#000" stroke-width="1.2"/>
<text transform="translate(285.1,221.00) rotate(-90)" text-anchor="middle" font-family="Liberation Sans, sans-serif" font-size="7.2" fill="#000" stroke="#000" stroke-width="0.3">200</text>
<text transform="translate(276.7,275.60) rotate(-90)" text-anchor="middle" font-family="Liberation Sans, sans-serif" font-size="7.6" fill="#000" stroke="#000" stroke-width="0.3">Counts</text>
<line x1="292.00" y1="325.0" x2="292.00" y2="329.3" stroke="#000" stroke-width="1.1"/>
<text x="293.30" y="337.0" text-anchor="end" textLength="7.4" lengthAdjust="spacingAndGlyphs" font-family="Liberation Sans, sans-serif" font-size="8.3" fill="#000" stroke="#000" stroke-width="0.3">10</text>
<text x="294.90" y="333.5" text-anchor="middle" font-family="Liberation Sans, sans-serif" font-size="6.6" fill="#000" stroke="#000" stroke-width="0.3">0</text>
<line x1="306.48" y1="325.0" x2="306.48" y2="327.6" stroke="#000" stroke-width="1"/>
<line x1="314.95" y1="325.0" x2="314.95" y2="327.6" stroke="#000" stroke-width="1"/>
<line x1="320.96" y1="325.0" x2="320.96" y2="327.6" stroke="#000" stroke-width="1"/>
<line x1="325.62" y1="325.0" x2="325.62" y2="327.6" stroke="#000" stroke-width="1"/>
<line x1="329.43" y1="325.0" x2="329.43" y2="327.6" stroke="#000" stroke-width="1"/>
<line x1="332.65" y1="325.0" x2="332.65" y2="327.6" stroke="#000" stroke-width="1"/>
<line x1="335.44" y1="325.0" x2="335.44" y2="327.6" stroke="#000" stroke-width="1"/>
<line x1="337.90" y1="325.0" x2="337.90" y2="327.6" stroke="#000" stroke-width="1"/>
<line x1="340.10" y1="325.0" x2="340.10" y2="329.3" stroke="#000" stroke-width="1.1"/>
<text x="341.40" y="337.0" text-anchor="end" textLength="7.4" lengthAdjust="spacingAndGlyphs" font-family="Liberation Sans, sans-serif" font-size="8.3" fill="#000" stroke="#000" stroke-width="0.3">10</text>
<text x="343.00" y="333.5" text-anchor="middle" font-family="Liberation Sans, sans-serif" font-size="6.6" fill="#000" stroke="#000" stroke-width="0.3">1</text>
<line x1="354.58" y1="325.0" x2="354.58" y2="327.6" stroke="#000" stroke-width="1"/>
<line x1="363.05" y1="325.0" x2="363.05" y2="327.6" stroke="#000" stroke-width="1"/>
<line x1="369.06" y1="325.0" x2="369.06" y2="327.6" stroke="#000" stroke-width="1"/>
<line x1="373.72" y1="325.0" x2="373.72" y2="327.6" stroke="#000" stroke-width="1"/>
<line x1="377.53" y1="325.0" x2="377.53" y2="327.6" stroke="#000" stroke-width="1"/>
<line x1="380.75" y1="325.0" x2="380.75" y2="327.6" stroke="#000" stroke-width="1"/>
<line x1="383.54" y1="325.0" x2="383.54" y2="327.6" stroke="#000" stroke-width="1"/>
<line x1="386.00" y1="325.0" x2="386.00" y2="327.6" stroke="#000" stroke-width="1"/>
<line x1="388.20" y1="325.0" x2="388.20" y2="329.3" stroke="#000" stroke-width="1.1"/>
<text x="389.50" y="337.0" text-anchor="end" textLength="7.4" lengthAdjust="spacingAndGlyphs" font-family="Liberation Sans, sans-serif" font-size="8.3" fill="#000" stroke="#000" stroke-width="0.3">10</text>
<text x="391.10" y="333.5" text-anchor="middle" font-family="Liberation Sans, sans-serif" font-size="6.6" fill="#000" stroke="#000" stroke-width="0.3">2</text>
<line x1="402.68" y1="325.0" x2="402.68" y2="327.6" stroke="#000" stroke-width="1"/>
<line x1="411.15" y1="325.0" x2="411.15" y2="327.6" stroke="#000" stroke-width="1"/>
<line x1="417.16" y1="325.0" x2="417.16" y2="327.6" stroke="#000" stroke-width="1"/>
<line x1="421.82" y1="325.0" x2="421.82" y2="327.6" stroke="#000" stroke-width="1"/>
<line x1="425.63" y1="325.0" x2="425.63" y2="327.6" stroke="#000" stroke-width="1"/>
<line x1="428.85" y1="325.0" x2="428.85" y2="327.6" stroke="#000" stroke-width="1"/>
<line x1="431.64" y1="325.0" x2="431.64" y2="327.6" stroke="#000" stroke-width="1"/>
<line x1="434.10" y1="325.0" x2="434.10" y2="327.6" stroke="#000" stroke-width="1"/>
<line x1="436.30" y1="325.0" x2="436.30" y2="329.3" stroke="#000" stroke-width="1.1"/>
<text x="437.60" y="337.0" text-anchor="end" textLength="7.4" lengthAdjust="spacingAndGlyphs" font-family="Liberation Sans, sans-serif" font-size="8.3" fill="#000" stroke="#000" stroke-width="0.3">10</text>
<text x="439.20" y="333.5" text-anchor="middle" font-family="Liberation Sans, sans-serif" font-size="6.6" fill="#000" stroke="#000" stroke-width="0.3">3</text>
<line x1="450.78" y1="325.0" x2="450.78" y2="327.6" stroke="#000" stroke-width="1"/>
<line x1="459.25" y1="325.0" x2="459.25" y2="327.6" stroke="#000" stroke-width="1"/>
<line x1="465.26" y1="325.0" x2="465.26" y2="327.6" stroke="#000" stroke-width="1"/>
<line x1="469.92" y1="325.0" x2="469.92" y2="327.6" stroke="#000" stroke-width="1"/>
<line x1="473.73" y1="325.0" x2="473.73" y2="327.6" stroke="#000" stroke-width="1"/>
<line x1="476.95" y1="325.0" x2="476.95" y2="327.6" stroke="#000" stroke-width="1"/>
<line x1="479.74" y1="325.0" x2="479.74" y2="327.6" stroke="#000" stroke-width="1"/>
<line x1="482.20" y1="325.0" x2="482.20" y2="327.6" stroke="#000" stroke-width="1"/>
<line x1="484.40" y1="325.0" x2="484.40" y2="329.3" stroke="#000" stroke-width="1.1"/>
<text x="485.70" y="337.0" text-anchor="end" textLength="7.4" lengthAdjust="spacingAndGlyphs" font-family="Liberation Sans, sans-serif" font-size="8.3" fill="#000" stroke="#000" stroke-width="0.3">10</text>
<text x="487.30" y="333.5" text-anchor="middle" font-family="Liberation Sans, sans-serif" font-size="6.6" fill="#000" stroke="#000" stroke-width="0.3">4</text>
<text x="386.70" y="345.4" text-anchor="middle" font-family="Liberation Sans, sans-serif" font-size="7.4" fill="#000" stroke="#000" stroke-width="0.3">CD59 Fitc</text>
<text transform="translate(-0.8,390.0) scale(1.02,1.125)" font-family="Liberation Sans, sans-serif" font-size="25.5" font-weight="bold" fill="#000">E</text>
<line x1="86.2" y1="483.77" x2="506.8" y2="483.77" stroke="#dcdcdc" stroke-width="1"/>
<line x1="86.2" y1="457.25" x2="506.8" y2="457.25" stroke="#dcdcdc" stroke-width="1"/>
<line x1="86.2" y1="430.73" x2="506.8" y2="430.73" stroke="#dcdcdc" stroke-width="1"/>
<path d="M86.2,510.8 V404.2 H507.3" fill="none" stroke="#383838" stroke-width="1.4"/>
<path d="M506.8,404.2 V510.3 H86.2" fill="none" stroke="#444" stroke-width="1.05"/>
<line x1="83.2" y1="510.30" x2="86.2" y2="510.30" stroke="#d0d0d0" stroke-width="0.8"/>
<text x="76.1" y="515.00" text-anchor="end" font-family="Liberation Serif, serif" font-size="14" textLength="6.6" lengthAdjust="spacingAndGlyphs" fill="#000" stroke="#000" stroke-width="0.2">1</text>
<line x1="84.2" y1="502.32" x2="86.2" y2="502.32" stroke="#e4e4e4" stroke-width="0.6"/>
<line x1="84.2" y1="497.64" x2="86.2" y2="497.64" stroke="#e4e4e4" stroke-width="0.6"/>
<line x1="84.2" y1="494.33" x2="86.2" y2="494.33" stroke="#e4e4e4" stroke-width="0.6"/>
<line x1="84.2" y1="491.76" x2="86.2" y2="491.76" stroke="#e4e4e4" stroke-width="0.6"/>
<line x1="84.2" y1="489.66" x2="86.2" y2="489.66" stroke="#e4e4e4" stroke-width="0.6"/>
<line x1="84.2" y1="487.88" x2="86.2" y2="487.88" stroke="#e4e4e4" stroke-width="0.6"/>
<line x1="84.2" y1="486.35" x2="86.2" y2="486.35" stroke="#e4e4e4" stroke-width="0.6"/>
<line x1="84.2" y1="484.99" x2="86.2" y2="484.99" stroke="#e4e4e4" stroke-width="0.6"/>
<line x1="83.2" y1="483.77" x2="86.2" y2="483.77" stroke="#d0d0d0" stroke-width="0.8"/>
<text x="76.1" y="488.47" text-anchor="end" font-family="Liberation Serif, serif" font-size="14" textLength="13.2" lengthAdjust="spacingAndGlyphs" fill="#000" stroke="#000" stroke-width="0.2">10</text>
<line x1="84.2" y1="475.79" x2="86.2" y2="475.79" stroke="#e4e4e4" stroke-width="0.6"/>
<line x1="84.2" y1="471.12" x2="86.2" y2="471.12" stroke="#e4e4e4" stroke-width="0.6"/>
<line x1="84.2" y1="467.81" x2="86.2" y2="467.81" stroke="#e4e4e4" stroke-width="0.6"/>
<line x1="84.2" y1="465.23" x2="86.2" y2="465.23" stroke="#e4e4e4" stroke-width="0.6"/>
<line x1="84.2" y1="463.13" x2="86.2" y2="463.13" stroke="#e4e4e4" stroke-width="0.6"/>
<line x1="84.2" y1="461.36" x2="86.2" y2="461.36" stroke="#e4e4e4" stroke-width="0.6"/>
<line x1="84.2" y1="459.82" x2="86.2" y2="459.82" stroke="#e4e4e4" stroke-width="0.6"/>
<line x1="84.2" y1="458.46" x2="86.2" y2="458.46" stroke="#e4e4e4" stroke-width="0.6"/>
<line x1="83.2" y1="457.25" x2="86.2" y2="457.25" stroke="#d0d0d0" stroke-width="0.8"/>
<text x="76.1" y="461.95" text-anchor="end" font-family="Liberation Serif, serif" font-size="14" textLength="19.8" lengthAdjust="spacingAndGlyphs" fill="#000" stroke="#000" stroke-width="0.2">100</text>
<line x1="84.2" y1="449.27" x2="86.2" y2="449.27" stroke="#e4e4e4" stroke-width="0.6"/>
<line x1="84.2" y1="444.59" x2="86.2" y2="444.59" stroke="#e4e4e4" stroke-width="0.6"/>
<line x1="84.2" y1="441.28" x2="86.2" y2="441.28" stroke="#e4e4e4" stroke-width="0.6"/>
<line x1="84.2" y1="438.71" x2="86.2" y2="438.71" stroke="#e4e4e4" stroke-width="0.6"/>
<line x1="84.2" y1="436.61" x2="86.2" y2="436.61" stroke="#e4e4e4" stroke-width="0.6"/>
<line x1="84.2" y1="434.83" x2="86.2" y2="434.83" stroke="#e4e4e4" stroke-width="0.6"/>
<line x1="84.2" y1="433.30" x2="86.2" y2="433.30" stroke="#e4e4e4" stroke-width="0.6"/>
<line x1="84.2" y1="431.94" x2="86.2" y2="431.94" stroke="#e4e4e4" stroke-width="0.6"/>
<line x1="83.2" y1="430.73" x2="86.2" y2="430.73" stroke="#d0d0d0" stroke-width="0.8"/>
<text x="76.1" y="435.43" text-anchor="end" font-family="Liberation Serif, serif" font-size="14" textLength="26.4" lengthAdjust="spacingAndGlyphs" fill="#000" stroke="#000" stroke-width="0.2">1000</text>
<line x1="84.2" y1="422.74" x2="86.2" y2="422.74" stroke="#e4e4e4" stroke-width="0.6"/>
<line x1="84.2" y1="418.07" x2="86.2" y2="418.07" stroke="#e4e4e4" stroke-width="0.6"/>
<line x1="84.2" y1="414.76" x2="86.2" y2="414.76" stroke="#e4e4e4" stroke-width="0.6"/>
<line x1="84.2" y1="412.18" x2="86.2" y2="412.18" stroke="#e4e4e4" stroke-width="0.6"/>
<line x1="84.2" y1="410.08" x2="86.2" y2="410.08" stroke="#e4e4e4" stroke-width="0.6"/>
<line x1="84.2" y1="408.31" x2="86.2" y2="408.31" stroke="#e4e4e4" stroke-width="0.6"/>
<line x1="84.2" y1="406.77" x2="86.2" y2="406.77" stroke="#e4e4e4" stroke-width="0.6"/>
<line x1="84.2" y1="405.41" x2="86.2" y2="405.41" stroke="#e4e4e4" stroke-width="0.6"/>
<line x1="83.2" y1="404.20" x2="86.2" y2="404.20" stroke="#d0d0d0" stroke-width="0.8"/>
<text x="76.1" y="408.90" text-anchor="end" font-family="Liberation Serif, serif" font-size="14" textLength="33.0" lengthAdjust="spacingAndGlyphs" fill="#000" stroke="#000" stroke-width="0.2">10000</text>
<line x1="86.20" y1="510.3" x2="86.20" y2="513.8" stroke="#c4c4c4" stroke-width="0.8"/>
<text x="86.20" y="537.90" text-anchor="middle" font-family="Liberation Serif, serif" font-size="14.4" fill="#000" stroke="#000" stroke-width="0.2">0</text>
<line x1="103.02" y1="510.3" x2="103.02" y2="512.8" stroke="#d8d8d8" stroke-width="0.7"/>
<line x1="119.85" y1="510.3" x2="119.85" y2="512.8" stroke="#d8d8d8" stroke-width="0.7"/>
<line x1="136.67" y1="510.3" x2="136.67" y2="512.8" stroke="#d8d8d8" stroke-width="0.7"/>
<line x1="153.50" y1="510.3" x2="153.50" y2="512.8" stroke="#d8d8d8" stroke-width="0.7"/>
<line x1="170.32" y1="510.3" x2="170.32" y2="513.8" stroke="#c4c4c4" stroke-width="0.8"/>
<text x="170.32" y="537.90" text-anchor="middle" font-family="Liberation Serif, serif" font-size="14.4" fill="#000" stroke="#000" stroke-width="0.2">10</text>
<line x1="187.14" y1="510.3" x2="187.14" y2="512.8" stroke="#d8d8d8" stroke-width="0.7"/>
<line x1="203.97" y1="510.3" x2="203.97" y2="512.8" stroke="#d8d8d8" stroke-width="0.7"/>
<line x1="220.79" y1="510.3" x2="220.79" y2="512.8" stroke="#d8d8d8" stroke-width="0.7"/>
<line x1="237.62" y1="510.3" x2="237.62" y2="512.8" stroke="#d8d8d8" stroke-width="0.7"/>
<line x1="254.44" y1="510.3" x2="254.44" y2="513.8" stroke="#c4c4c4" stroke-width="0.8"/>
<text x="254.44" y="537.90" text-anchor="middle" font-family="Liberation Serif, serif" font-size="14.4" fill="#000" stroke="#000" stroke-width="0.2">20</text>
<line x1="271.26" y1="510.3" x2="271.26" y2="512.8" stroke="#d8d8d8" stroke-width="0.7"/>
<line x1="288.09" y1="510.3" x2="288.09" y2="512.8" stroke="#d8d8d8" stroke-width="0.7"/>
<line x1="304.91" y1="510.3" x2="304.91" y2="512.8" stroke="#d8d8d8" stroke-width="0.7"/>
<line x1="321.74" y1="510.3" x2="321.74" y2="512.8" stroke="#d8d8d8" stroke-width="0.7"/>
<line x1="338.56" y1="510.3" x2="338.56" y2="513.8" stroke="#c4c4c4" stroke-width="0.8"/>
<text x="338.56" y="537.90" text-anchor="middle" font-family="Liberation Serif, serif" font-size="14.4" fill="#000" stroke="#000" stroke-width="0.2">30</text>
<line x1="355.38" y1="510.3" x2="355.38" y2="512.8" stroke="#d8d8d8" stroke-width="0.7"/>
<line x1="372.21" y1="510.3" x2="372.21" y2="512.8" stroke="#d8d8d8" stroke-width="0.7"/>
<line x1="389.03" y1="510.3" x2="389.03" y2="512.8" stroke="#d8d8d8" stroke-width="0.7"/>
<line x1="405.86" y1="510.3" x2="405.86" y2="512.8" stroke="#d8d8d8" stroke-width="0.7"/>
<line x1="422.68" y1="510.3" x2="422.68" y2="513.8" stroke="#c4c4c4" stroke-width="0.8"/>
<text x="422.68" y="537.90" text-anchor="middle" font-family="Liberation Serif, serif" font-size="14.4" fill="#000" stroke="#000" stroke-width="0.2">40</text>
<line x1="439.50" y1="510.3" x2="439.50" y2="512.8" stroke="#d8d8d8" stroke-width="0.7"/>
<line x1="456.33" y1="510.3" x2="456.33" y2="512.8" stroke="#d8d8d8" stroke-width="0.7"/>
<line x1="473.15" y1="510.3" x2="473.15" y2="512.8" stroke="#d8d8d8" stroke-width="0.7"/>
<line x1="489.98" y1="510.3" x2="489.98" y2="512.8" stroke="#d8d8d8" stroke-width="0.7"/>
<line x1="506.80" y1="510.3" x2="506.80" y2="513.8" stroke="#c4c4c4" stroke-width="0.8"/>
<text x="506.80" y="537.90" text-anchor="middle" font-family="Liberation Serif, serif" font-size="14.4" fill="#000" stroke="#000" stroke-width="0.2">50</text>
<text x="287.6" y="554.5" text-anchor="middle" font-family="Liberation Serif, serif" font-size="15" font-weight="bold" fill="#000" stroke="#000" stroke-width="0.2">time after injection (hours)</text>
<text transform="translate(17.7,454.2) rotate(-90)" text-anchor="middle" font-family="Liberation Serif, serif" font-size="15" font-weight="bold" fill="#000" stroke="#000" stroke-width="0.2">mean fluorescent</text>
<text transform="translate(38.2,454.8) rotate(-90)" text-anchor="middle" font-family="Liberation Serif, serif" font-size="15" font-weight="bold" fill="#000" stroke="#000" stroke-width="0.2">intensity</text>
<path d="M94.61,493.60 L119.85,493.60 L288.09,493.20 L489.98,492.80" fill="none" stroke="#111" stroke-width="1.6" stroke-dasharray="7,2.5,2,2.5"/>
<path d="M94.61,494.10 L119.85,494.10 L288.09,493.70 L489.98,493.30" fill="none" stroke="#222" stroke-width="1.1" stroke-dasharray="3,2.5,1.5,2,1.5,2.5"/>
<rect x="89.41" y="488.40" width="10.4" height="10.4" fill="none" stroke="#111" stroke-width="1.2"/>
<rect x="114.65" y="488.40" width="10.4" height="10.4" fill="none" stroke="#111" stroke-width="1.2"/>
<rect x="282.89" y="488.00" width="10.4" height="10.4" fill="none" stroke="#111" stroke-width="1.2"/>
<rect x="484.78" y="487.60" width="10.4" height="10.4" fill="none" stroke="#111" stroke-width="1.2"/>
<path d="M90.31,493.60 L94.61,489.20 L98.91,493.60 L94.61,498.00Z" fill="#000"/>
<path d="M115.55,493.60 L119.85,489.20 L124.15,493.60 L119.85,498.00Z" fill="#000"/>
<path d="M283.79,493.20 L288.09,488.80 L292.39,493.20 L288.09,497.60Z" fill="#000"/>
<path d="M485.68,492.80 L489.98,488.40 L494.28,492.80 L489.98,497.20Z" fill="#000"/>
<path d="M94.61,442.50 L119.85,439.50" fill="none" stroke="#000" stroke-width="2" stroke-dasharray="12.9,7.2"/>
<path d="M119.85,439.50 L288.09,439.50" fill="none" stroke="#000" stroke-width="2" stroke-dasharray="12.9,7.2"/>
<path d="M288.09,439.50 L489.98,439.70" fill="none" stroke="#000" stroke-width="2" stroke-dasharray="12.9,7.2"/>
<path d="M91.41,446.40 L94.61,440.20 L97.81,446.40Z" fill="#000"/>
<path d="M116.65,442.40 L119.85,436.20 L123.05,442.40Z" fill="#000"/>
<path d="M284.89,442.40 L288.09,436.20 L291.29,442.40Z" fill="#000"/>
<path d="M486.78,442.60 L489.98,436.40 L493.18,442.60Z" fill="#000"/>
<path d="M92.01,440.10 H97.01" stroke="#333" stroke-width="0.8" fill="none"/>
<path d="M94.61,427.50 Q106.73,434.70 119.85,439.50 C152.09,448.02 226.40,469.77 288.09,478.60 C349.78,487.43 456.33,490.18 489.98,492.50" fill="none" stroke="#000" stroke-width="2.1"/>
<path d="M89.41,432.00 L94.61,422.20 L99.81,432.00Z" fill="#000"/>
<path d="M114.65,444.00 L119.85,434.20 L125.05,444.00Z" fill="#000"/>
<path d="M282.89,483.10 L288.09,473.30 L293.29,483.10Z" fill="#000"/>
<path d="M484.78,497.00 L489.98,487.20 L495.18,497.00Z" fill="#000"/>
<path d="M0,583.8000000000001 H1.4 M5.2,583.8000000000001 H8.1 M27.7,583.8000000000001 H30.2 M33.5,583.8000000000001 H36.9" fill="none" stroke="#222" stroke-width="1.2"/>
<path d="M13.8,584.0 L19.3,578.8000000000001 L24.8,584.0 L19.3,589.2Z" fill="#000"/>
<text x="42.7" y="588.8" font-family="Liberation Serif, serif" font-size="14.4" textLength="113.3" lengthAdjust="spacingAndGlyphs" fill="#000" stroke="#000" stroke-width="0.2">vehicle treated mice</text>
<path d="M0,606.7 H15.6 M26,606.7 H38.1" fill="none" stroke="#000" stroke-width="2.3"/>
<path d="M15.8,609.6 L19.5,602.2 L23.2,609.6Z" fill="#000"/>
<text x="42.2" y="611.5" font-family="Liberation Serif, serif" font-size="14.4" textLength="212.8" lengthAdjust="spacingAndGlyphs" fill="#000" stroke="#000" stroke-width="0.2">untreated normal human whole blood</text>
<path d="M275.2,583.7 H315.6" fill="none" stroke="#000" stroke-width="2.2"/>
<path d="M290.0,588.3000000000001 L295.4,578.6 L300.79999999999995,588.3000000000001Z" fill="#000"/>
<text x="317.9" y="588.8" font-family="Liberation Serif, serif" font-size="14.4" textLength="132.0" lengthAdjust="spacingAndGlyphs" fill="#000" stroke="#000" stroke-width="0.2">rhCD59-P treated mice</text>
<path d="M276.3,606.7 H283.8" fill="none" stroke="#111" stroke-width="1.7"/>
<path d="M308.7,606.7 H310.4" fill="none" stroke="#222" stroke-width="1.4"/>
<rect x="291.4" y="602.85" width="8.2" height="7.7" fill="none" stroke="#111" stroke-width="1.3"/>
<path d="M289,606.7 H291.4 M295.5,606.7 H303.5" stroke="#111" stroke-width="1.3"/>
<text x="318.4" y="611.5" font-family="Liberation Serif, serif" font-size="14.4" textLength="201.5" lengthAdjust="spacingAndGlyphs" fill="#000" stroke="#000" stroke-width="0.2">untreated human PNH whole blood</text>
</svg>
</body></html>
